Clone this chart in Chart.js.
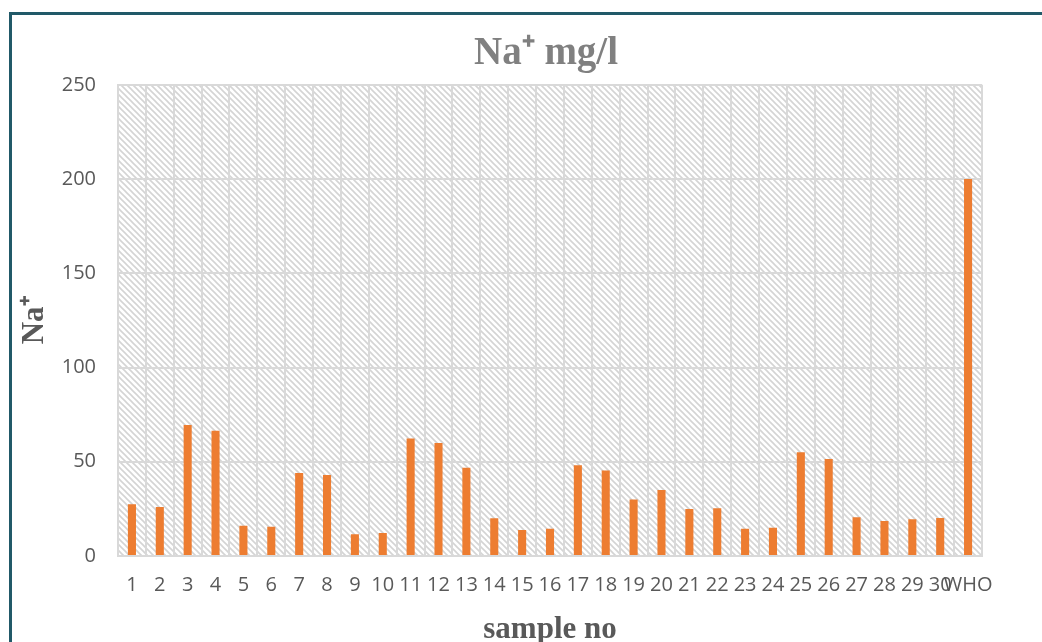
<!DOCTYPE html>
<html>
<head>
<meta charset="utf-8">
<script src="https://cdn.jsdelivr.net/npm/chart.js@4/dist/chart.umd.min.js"></script>
<style>
  html, body { margin: 0; padding: 0; background: #fff; overflow: hidden; }
  #frame {
    position: absolute; left: 9px; top: 12px; width: 2000px; height: 2000px;
    border-top: 3px solid #215968; border-left: 3px solid #215968;
  }
  #chart { position: absolute; left: 0; top: 0; }
</style>
</head>
<body>
<div id="frame"></div>
<canvas id="chart" width="1092" height="642"></canvas>
<script>
const samples = ['1', '2', '3', '4', '5', '6', '7', '8', '9', '10',
  '11', '12', '13', '14', '15', '16', '17', '18', '19', '20',
  '21', '22', '23', '24', '25', '26', '27', '28', '29', '30', 'WHO'];
const naValues = [27.5, 26, 69.5, 66.5, 16, 15.5, 44, 43, 11.5, 12.2,
  62.3, 60, 46.8, 20, 13.8, 14.5, 48.2, 45.3, 30, 35,
  24.9, 25.4, 14.5, 15, 55, 51.4, 20.6, 18.6, 19.5, 20.2, 200];
const yTicks = [0, 50, 100, 150, 200, 250];

const gridColor = '#d9d9d9';
const tickFont = { family: '"Open Sans", "Liberation Sans", sans-serif', size: 20 };
const serif = '"Liberation Serif", "Times New Roman", serif';

// hatched plot background, like the Excel pattern fill
function makeHatch() {
  const c = document.createElement('canvas');
  c.width = 6; c.height = 6;
  const g = c.getContext('2d');
  g.fillStyle = '#fff';
  g.fillRect(0, 0, 6, 6);
  g.strokeStyle = '#d4d4d4';
  g.lineWidth = 1.6;
  g.beginPath();
  g.moveTo(-1, -1); g.lineTo(7, 7);
  g.moveTo(-1, 5); g.lineTo(1, 7);
  g.moveTo(5, -1); g.lineTo(7, 1);
  g.stroke();
  return c;
}

const hatchBg = {
  id: 'hatchBg',
  beforeDraw(chart) {
    const { ctx, chartArea: a } = chart;
    ctx.save();
    ctx.fillStyle = ctx.createPattern(makeHatch(), 'repeat');
    ctx.fillRect(a.left, a.top, a.right - a.left, a.bottom - a.top);
    ctx.restore();
  }
};

new Chart(document.getElementById('chart'), {
  type: 'bar',
  data: {
    labels: samples,
    datasets: [{
      label: 'Na+',
      data: naValues,
      backgroundColor: '#ED7D31',
      categoryPercentage: 1,
      barPercentage: 0.29
    }]
  },
  options: {
    responsive: false,
    animation: false,
    layout: { padding: 0 },
    plugins: {
      legend: { display: false },
      tooltip: { enabled: false },
      title: {
        display: true,
        text: 'Na⁺ mg/l',
        color: '#808080',
        font: { family: serif, size: 39, weight: 'bold', lineHeight: 1.2 },
        padding: { top: 31, bottom: 7 }
      }
    },
    scales: {
      x: {
        grid: { color: gridColor, lineWidth: 2, drawTicks: false },
        border: { color: gridColor, width: 2 },
        ticks: { color: '#595959', font: tickFont, autoSkip: false, maxRotation: 0, padding: 17 },
        title: {
          display: true,
          text: 'sample no',
          color: '#595959',
          font: { family: serif, size: 31, weight: 'bold', lineHeight: 0.8 },
          padding: 0
        },
        afterFit(s) { s.height = 86; }
      },
      y: {
        min: 0,
        max: 250,
        afterBuildTicks(s) { s.ticks = yTicks.map(v => ({ value: v })); },
        grid: { color: gridColor, lineWidth: 2, drawTicks: false },
        border: { color: gridColor, width: 2 },
        ticks: { color: '#595959', font: tickFont, padding: 22 },
        title: {
          display: true,
          text: 'Na⁺',
          color: '#595959',
          font: { family: serif, size: 31, weight: 'bold', lineHeight: 1 },
          padding: { top: 19.5, bottom: 0 }
        },
        afterFit(s) { s.width = 118; }
      },
      // empty axis on the right only to keep the title centred like the original
      spacer: {
        type: 'linear',
        position: 'right',
        grid: { display: false },
        border: { display: false },
        ticks: { display: false },
        afterFit(s) { s.width = 110; }
      }
    }
  },
  plugins: [hatchBg]
});
</script>
</body>
</html>
